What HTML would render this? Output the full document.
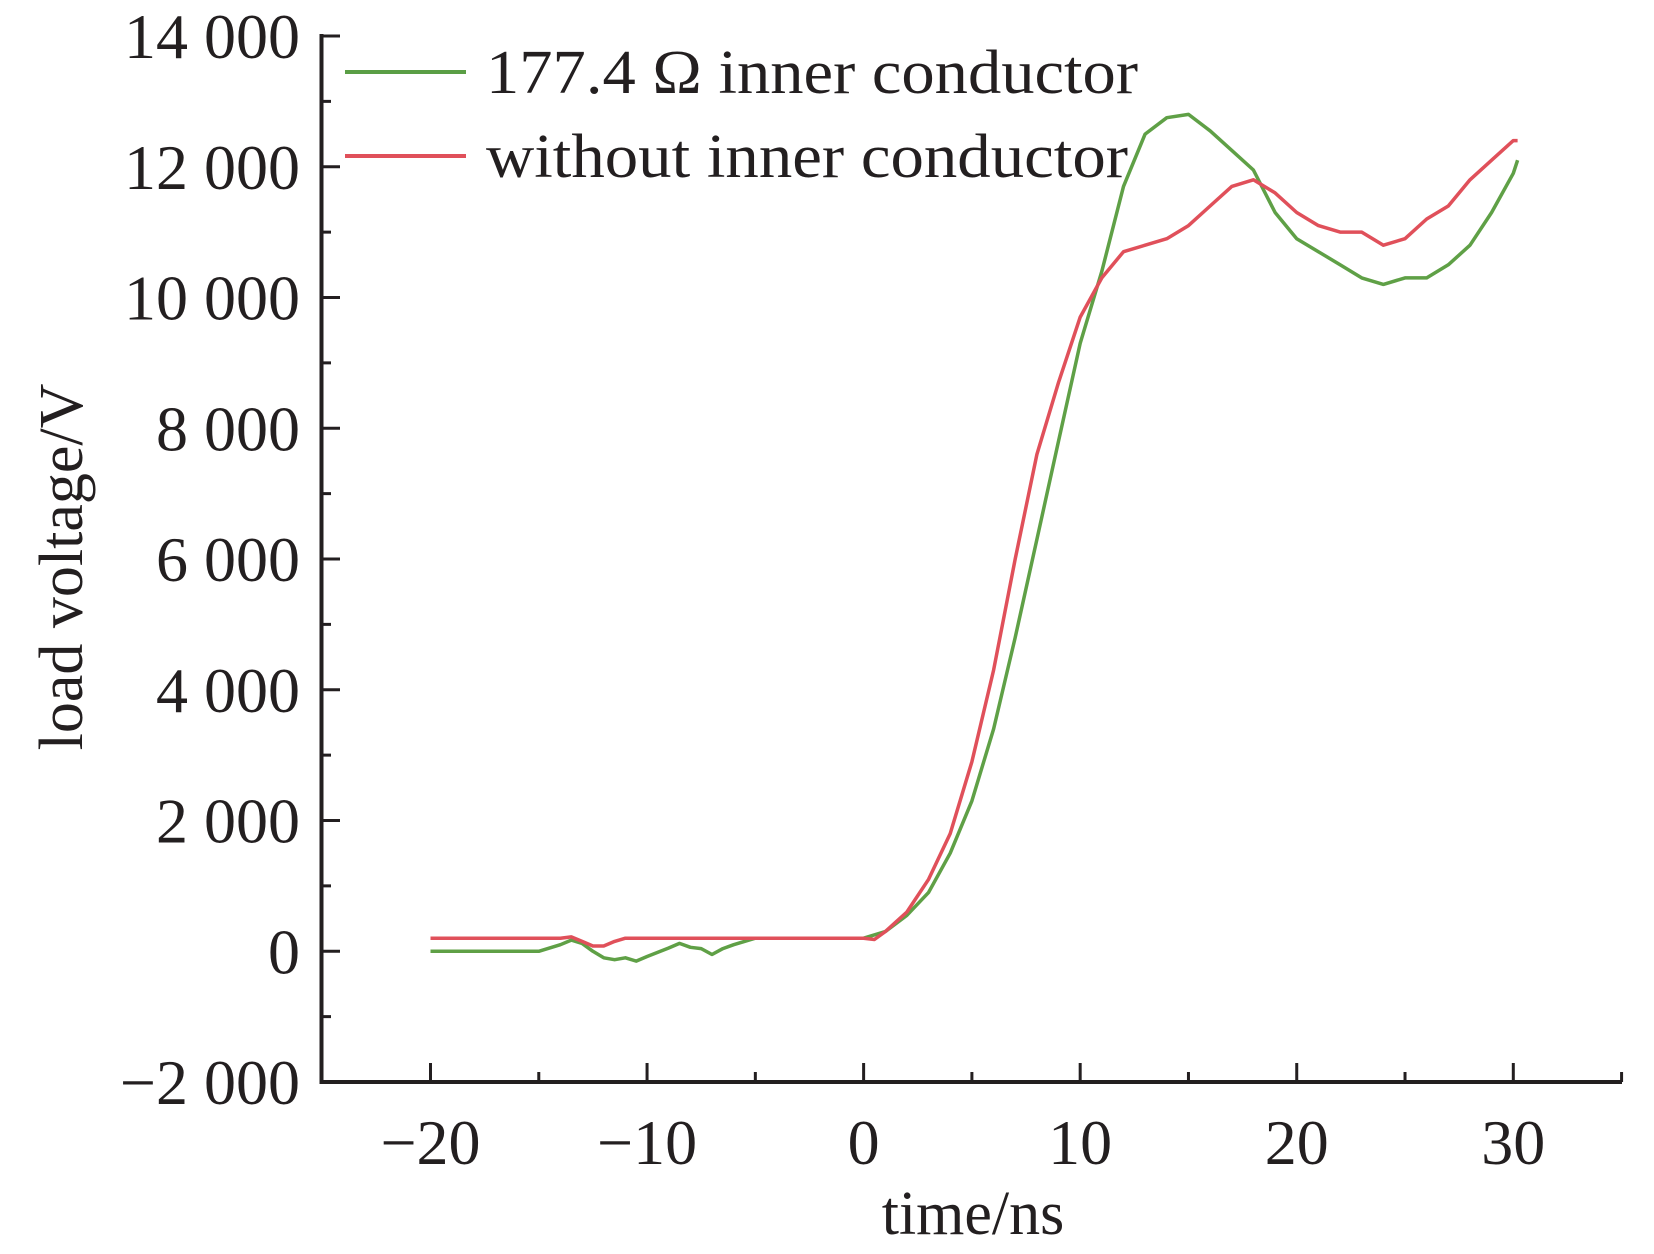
<!DOCTYPE html>
<html><head><meta charset="utf-8"><style>
html,body{margin:0;padding:0;background:#fff;}
svg{display:block;}
text{font-family:"Liberation Serif",serif;fill:#231f20;}
</style></head><body>
<svg id="chart" width="1654" height="1254" viewBox="0 0 1654 1254">
<g id="axes"></g>
<g id="series"></g>
<g id="legend">
  <line x1="345" y1="72" x2="466" y2="72" stroke="#5a9e45" stroke-width="4"/>
  <text x="486" y="93" font-size="62" textLength="652" lengthAdjust="spacingAndGlyphs">177.4 Ω inner conductor</text>
  <line x1="345" y1="156" x2="466" y2="156" stroke="#e0505a" stroke-width="4"/>
  <text x="486" y="177" font-size="62" textLength="642" lengthAdjust="spacingAndGlyphs">without inner conductor</text>
</g>
<text x="973" y="1234" font-size="62" text-anchor="middle">time/ns</text>
<text transform="translate(82,567) rotate(-90)" font-size="62" text-anchor="middle">load voltage/V</text>
</svg>
<script>
const xTicks=[-20,-10,0,10,20,30];
const yTicks=[-2000,0,2000,4000,6000,8000,10000,12000,14000];
const greenT=[-20,-15,-14,-13.5,-13,-12.5,-12,-11.5,-11,-10.5,-10,-9,-8.5,-8,-7.5,-7,-6.5,-6,-5,0,1,2,3,4,5,6,7,8,9,10,11,12,13,14,15,16,17,18,19,20,21,22,23,24,25,26,27,28,29,30,30.2];
const greenV=[0,0,100,170,120,0,-100,-130,-100,-150,-80,50,120,60,40,-50,40,100,200,200,300,550,900,1500,2300,3400,4800,6300,7800,9300,10400,11700,12500,12750,12800,12550,12250,11950,11300,10900,10700,10500,10300,10200,10300,10300,10500,10800,11300,11900,12100];
const redT=[-20,-14,-13.5,-13,-12.5,-12,-11.5,-11,-5,0,0.5,1,2,3,4,5,6,7,8,9,10,11,12,13,14,15,16,17,18,19,20,21,22,23,24,25,26,27,28,29,30,30.2];
const redV=[200,200,220,150,80,80,150,200,200,200,180,300,600,1100,1800,2900,4300,6000,7600,8700,9700,10300,10700,10800,10900,11100,11400,11700,11800,11600,11300,11100,11000,11000,10800,10900,11200,11400,11800,12100,12400,12400];
const NS="http://www.w3.org/2000/svg";
const X=t=>430.5+(t+20)*21.656;
const Y=v=>1082-(v+2000)*(1046/16000);
const axes=document.getElementById('axes');
function mk(tag,attrs,parent){const e=document.createElementNS(NS,tag);for(const k in attrs)e.setAttribute(k,attrs[k]);parent.appendChild(e);return e;}
let yax=mk('line',{x1:321.5,y1:34,x2:321.5,y2:1084,stroke:'#231f20','stroke-width':4},axes);


let xax=mk('line',{x1:319.5,y1:1082,x2:1622,y2:1082,stroke:'#231f20','stroke-width':4},axes);


for(let t=-20;t<=35;t+=5){
  const major=xTicks.includes(t);
  const tk=mk('line',{x1:X(t),y1:1082,x2:X(t),y2:major?1063:1072,stroke:'#231f20','stroke-width':3},axes);
  
  
}
xTicks.forEach(t=>{
  const tx=mk('text',{x:X(t),y:1164,'font-size':64,'text-anchor':'middle'},axes);
  tx.textContent=(t<0?'\u2212':'')+Math.abs(t);
  
  
});
for(let v=-2000;v<=14000;v+=1000){
  const major=yTicks.includes(v);
  const tk=mk('line',{x1:321.5,y1:Y(v),x2:major?340:331,y2:Y(v),stroke:'#231f20','stroke-width':3},axes);
  
  
}
yTicks.forEach(v=>{
  const s=Math.abs(v).toString().replace(/\B(?=(\d{3})+(?!\d))/g,' ');
  const tx=mk('text',{x:300,y:Y(v)+22,'font-size':64,'text-anchor':'end'},axes);
  tx.textContent=(v<0?'\u2212':'')+s;
  
  
});
const ser=document.getElementById('series');
function draw(T,V,color,name){
  const d=T.map((t,i)=>(i?'L':'M')+X(t).toFixed(1)+' '+Y(V[i]).toFixed(1)).join(' ');
  const p=mk('path',{d:d,fill:'none',stroke:color,'stroke-width':3.5,'stroke-linejoin':'round'},ser);
  
  
}
draw(greenT,greenV,'#5fa046','series-177-ohm-inner-conductor');
draw(redT,redV,'#e0505a','series-without-inner-conductor');
</script>
</body></html>
